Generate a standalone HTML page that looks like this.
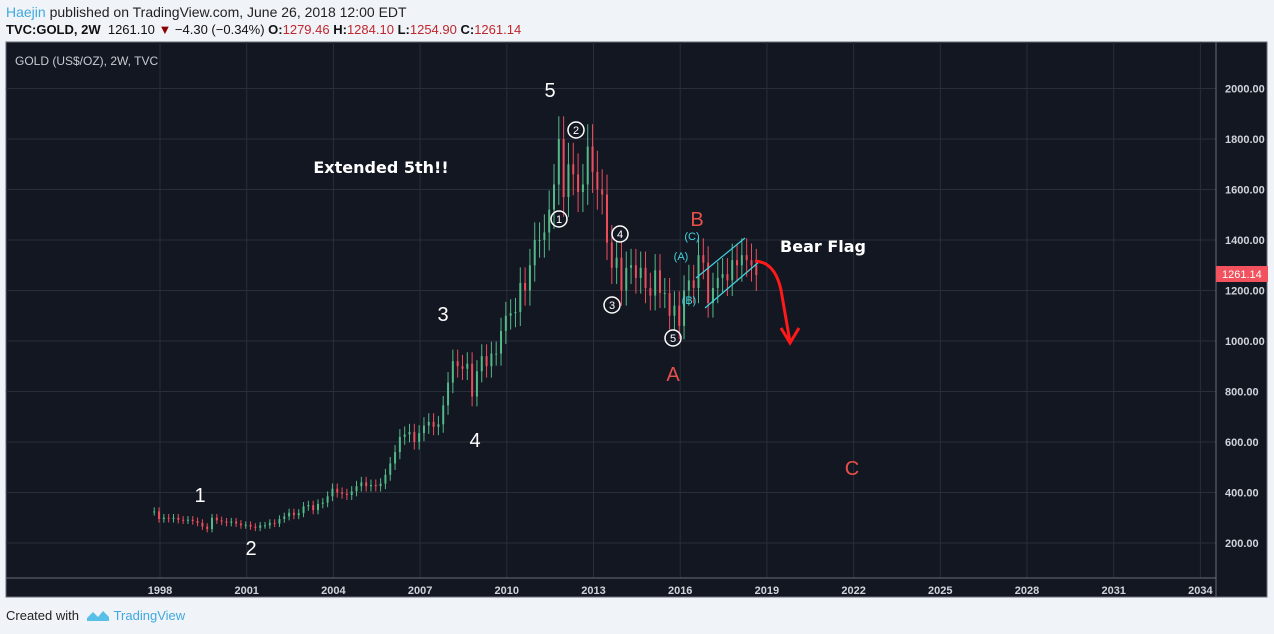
<!DOCTYPE html>
<html><head><meta charset="utf-8"><style>
body{margin:0;width:1274px;height:634px;background:#f0f3f7;font-family:"Liberation Sans",sans-serif;position:relative;overflow:hidden}
.t{position:absolute;white-space:nowrap}
</style></head><body>
<div class="t" style="left:6px;top:4px;font-size:14px;color:#222"><span style="color:#3fa9e0">Haejin</span> published on TradingView.com, June 26, 2018 12:00 EDT</div>
<div class="t" style="left:6px;top:22px;font-size:13px;color:#111"><b>TVC:GOLD, 2W</b>&nbsp; 1261.10 <span style="color:#8b0000">▼</span> −4.30 (−0.34%) <b>O:</b><span style="color:#c0272d">1279.46</span> <b>H:</b><span style="color:#c0272d">1284.10</span> <b>L:</b><span style="color:#c0272d">1254.90</span> <b>C:</b><span style="color:#c0272d">1261.14</span></div>
<svg width="1274" height="634" style="position:absolute;left:0;top:0">
<rect x="6" y="42" width="1261" height="555" fill="#131722" stroke="#6a6d78"/>
<g id="grid"></g><g id="candles"></g>
<line x1="1216" y1="42" x2="1216" y2="597" stroke="#6a6d78"/>
<line x1="6" y1="578" x2="1216" y2="578" stroke="#6a6d78"/>
<g id="ticks"></g>
<text x="15" y="65" fill="#c8cbd2" font-size="12">GOLD (US$/OZ), 2W, TVC</text>
<g font-family="Liberation Sans" fill="#fff" font-size="20" text-anchor="middle">
<text x="550" y="97">5</text>
<text x="443" y="321">3</text>
<text x="475" y="447">4</text>
<text x="200" y="502">1</text>
<text x="251" y="555">2</text>
</g>
<text x="381" y="173" fill="#fff" font-size="16" font-weight="bold" text-anchor="middle" font-family="DejaVu Sans">Extended 5th!!</text>
<text x="823" y="252" fill="#fff" font-size="16" font-weight="bold" text-anchor="middle" font-family="DejaVu Sans">Bear Flag</text>
<g fill="none" stroke="#fff" stroke-width="1.5">
<circle cx="559" cy="219" r="8"/><circle cx="576" cy="130" r="8"/><circle cx="612" cy="305" r="8"/><circle cx="620" cy="234" r="8"/><circle cx="673" cy="338" r="8"/></g>
<g fill="#fff" font-size="11" text-anchor="middle">
<text x="559" y="223">1</text>
<text x="576" y="134">2</text>
<text x="612" y="309">3</text>
<text x="620" y="238">4</text>
<text x="673" y="342">5</text></g>
<g fill="#e8504a" font-size="20" text-anchor="middle">
<text x="697" y="226">B</text>
<text x="673" y="381">A</text>
<text x="852" y="475">C</text></g>
<g fill="#3fd4e0" font-size="11" text-anchor="middle">
<text x="681" y="260">(A)</text>
<text x="689" y="304">(B)</text>
<text x="692" y="240">(C)</text></g>
<g stroke="#3fd4e0" stroke-width="1.2">
<line x1="696" y1="278" x2="745" y2="238"/><line x1="705" y1="308" x2="760" y2="261"/></g>
<g stroke="#ff1a1a" stroke-width="3" fill="none">
<path d="M755 261 Q775 262 781 290 L790 342"/><path d="M781 328 L790 343 L799 328"/></g>
<rect x="1216" y="266" width="52" height="16" fill="#f2525e"/>
<text x="1222" y="278" fill="#fff" font-size="11">1261.14</text>
</svg>
<div class="t" style="left:6px;top:608px;font-size:13px;color:#222">Created with &nbsp;<svg width="24" height="14" viewBox="0 0 24 14" style="vertical-align:-2px"><path d="M1 10 L7 4 L12 9 L17 3 L23 9 L23 13 L1 13Z" fill="#57c0e8"/></svg> <span style="color:#3fa9e0">TradingView</span></div>
<script>
const years=[1998,2001,2004,2007,2010,2013,2016,2019,2022,2025,2028,2031,2034];
const priceTicks=[200,400,600,800,1000,1200,1400,1600,1800,2000];
const startYear=1997.8;
const closes=[325,295,300,296,300,292,290,292,287,280,265,255,300,290,285,280,285,277,270,272,265,260,270,270,280,277,295,305,320,310,318,345,350,330,355,360,385,415,400,395,390,405,425,440,425,430,425,435,470,515,560,620,630,640,600,635,665,680,660,670,745,835,920,900,890,910,780,880,940,900,950,950,1040,1100,1110,1115,1230,1200,1300,1400,1400,1430,1520,1620,1800,1570,1700,1660,1590,1620,1770,1670,1600,1580,1390,1290,1330,1200,1290,1300,1250,1290,1210,1180,1280,1190,1190,1100,1140,1060,1200,1240,1210,1340,1310,1150,1210,1250,1265,1240,1320,1300,1340,1320,1300,1261];
const X=y=>160+(y-1998)*28.9;
const Y=p=>543-(p-200)*0.2525;
const NS='http://www.w3.org/2000/svg';
const g=document.getElementById('grid'),tk=document.getElementById('ticks'),cg=document.getElementById('candles');
function mk(t,a,p){const e=document.createElementNS(NS,t);for(const k in a)e.setAttribute(k,a[k]);p.appendChild(e);return e;}
years.forEach(y=>{const l=mk('line',{x1:X(y),x2:X(y),y1:42,y2:578,stroke:'#2a2e3a'},g);


const t=mk('text',{x:X(y),y:594,fill:'#d0d3da','font-size':11,'font-weight':'bold','text-anchor':'middle'},tk);t.textContent=y;

});
priceTicks.forEach(p=>{const l=mk('line',{x1:6,x2:1216,y1:Y(p),y2:Y(p),stroke:'#2a2e3a'},g);


const t=mk('text',{x:1225,y:Y(p)+4,fill:'#d0d3da','font-size':11,'font-weight':'bold'},tk);t.textContent=p.toFixed(2);

});
const step=1/6;
closes.forEach((c,i)=>{const o=i?closes[i-1]:c;const up=c>=o;const col=up?'#53b987':'#eb4d5c';
const x=X(startYear+i*step);const hi=Math.max(o,c)*1.05,lo=Math.min(o,c)*0.95;
const w=mk('line',{x1:x,x2:x,y1:Y(hi),y2:Y(lo),stroke:col},cg);


const r=mk('rect',{x:x-1,y:Y(Math.max(o,c)),width:2,height:Math.max(1,Math.abs(Y(o)-Y(c))),fill:col},cg);

});
</script>
</body></html>
